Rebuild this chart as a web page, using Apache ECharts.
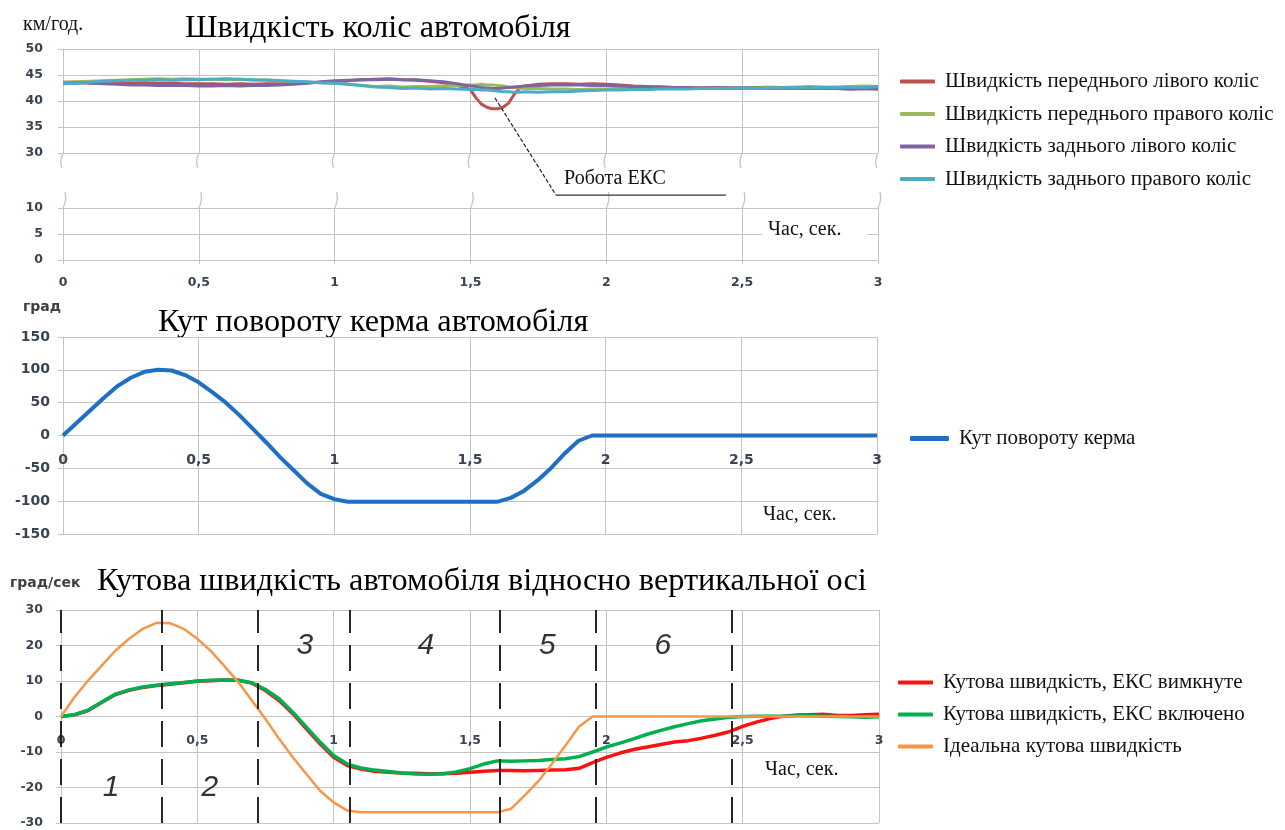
<!DOCTYPE html>
<html>
<head>
<meta charset="utf-8">
<script src="https://cdn.jsdelivr.net/npm/echarts@6/dist/echarts.min.js"></script>
<style>
  html, body { margin: 0; padding: 0; background: #fff; }
  #chart { width: 1285px; height: 830px; }
</style>
</head>
<body>
<div id="chart"></div>
<script>
// ---- Wheel speeds, km/h (denser sampling around the ESC intervention) ----
const wheelTime = [0,0.05,0.1,0.15,0.2,0.25,0.3,0.35,0.4,0.45,0.5,0.55,0.6,0.65,0.7,0.75,0.8,0.85,0.9,0.95,1,1.05,1.1,1.15,1.2,1.25,1.3,1.35,1.4,1.45,1.5,
  1.52,1.54,1.56,1.58,1.6,1.62,1.64,1.66,1.68,
  1.7,1.75,1.8,1.85,1.9,1.95,2,2.05,2.1,2.15,2.2,2.25,2.3,2.35,2.4,2.45,2.5,2.55,2.6,2.65,2.7,2.75,2.8,2.85,2.9,2.95,3];
const frontLeft = [43.6,43.6,43.5,43.6,43.5,43.4,43.5,43.4,43.4,43.3,43.3,43.3,43.2,43.3,43.2,43.3,43.3,43.4,43.5,43.6,43.7,43.9,44.1,44.2,44.3,44.1,44.0,43.8,43.5,43.0,42.2,
  40.6,39.4,38.8,38.5,38.5,38.8,39.6,41.2,42.4,
  42.9,43.2,43.3,43.3,43.2,43.3,43.2,43.1,42.9,42.8,42.7,42.6,42.6,42.5,42.6,42.5,42.5,42.6,42.5,42.4,42.5,42.4,42.5,42.4,42.3,42.4,42.3];
const frontRight = [43.6,43.7,43.8,43.9,44.0,44.1,44.2,44.3,44.2,44.3,44.2,44.2,44.1,44.2,44.0,44.1,43.9,43.7,43.6,43.5,43.4,43.2,43.0,42.8,42.9,42.7,42.8,42.8,42.9,43.0,43.1,
  43.1,43.2,43.1,43.1,43.0,42.9,42.7,42.6,42.5,
  42.4,42.4,42.3,42.3,42.2,42.3,42.3,42.4,42.4,42.5,42.5,42.4,42.6,42.5,42.6,42.6,42.5,42.6,42.7,42.6,42.7,42.8,42.7,42.7,42.8,42.9,42.8];
const rearLeft = [43.4,43.5,43.4,43.3,43.2,43.1,43.1,43.0,43.0,43.0,42.9,42.9,43.0,42.9,43.0,43.0,43.1,43.2,43.4,43.7,43.9,44.0,44.1,44.1,44.2,44.1,44.1,43.9,43.7,43.3,42.9,
  42.8,42.6,42.5,42.4,42.4,42.5,42.6,42.7,42.8,
  42.9,43.0,43.1,43.1,43.1,43.0,43.0,42.9,42.8,42.7,42.7,42.6,42.6,42.5,42.6,42.5,42.5,42.5,42.4,42.5,42.4,42.5,42.4,42.4,42.3,42.4,42.3];
const rearRight = [43.3,43.4,43.6,43.8,43.9,44.0,44.0,44.1,44.0,44.1,44.1,44.2,44.3,44.2,44.1,44.0,43.9,43.8,43.7,43.5,43.4,43.2,43.0,42.7,42.6,42.4,42.5,42.3,42.4,42.3,42.2,
  42.2,42.1,42.1,42.0,41.9,41.8,41.8,41.7,41.7,
  41.8,41.7,41.8,41.8,41.9,42.0,42.1,42.1,42.2,42.2,42.3,42.3,42.3,42.4,42.4,42.4,42.5,42.4,42.5,42.5,42.6,42.5,42.6,42.6,42.7,42.6,42.8];

// ---- Steering angle (deg) and yaw rate (deg/s), sampled every 0.05 s ----
const time = [0,0.05,0.1,0.15,0.2,0.25,0.3,0.35,0.4,0.45,0.5,0.55,0.6,0.65,0.7,0.75,0.8,0.85,0.9,0.95,
  1,1.05,1.1,1.15,1.2,1.25,1.3,1.35,1.4,1.45,1.5,1.55,1.6,1.65,1.7,1.75,1.8,1.85,1.9,1.95,
  2,2.05,2.1,2.15,2.2,2.25,2.3,2.35,2.4,2.45,2.5,2.55,2.6,2.65,2.7,2.75,2.8,2.85,2.9,2.95,3];
const steerAngle = [0,19,38,57,75,88,97,100,99,92,81,66,50,31,10,-11,-33,-53,-73,-89,
  -97,-101,-101,-101,-101,-101,-101,-101,-101,-101,-101,-101,-101,-95,-84,-68,-49,-27,-8,0,
  0,0,0,0,0,0,0,0,0,0,0,0,0,0,0,0,0,0,0,0,0];
const yawOff = [0,0.5,1.7,4.0,6.2,7.4,8.2,8.7,9.1,9.5,9.9,10.1,10.3,10.2,9.4,7.3,4.5,0.8,-3.5,-7.7,
  -11.5,-13.8,-14.8,-15.4,-15.7,-15.9,-16.0,-16.1,-16.1,-16.0,-15.7,-15.4,-15.2,-15.2,-15.3,-15.2,-15.1,-15.0,-14.6,-13.0,
  -11.5,-10.3,-9.3,-8.6,-7.9,-7.2,-6.8,-6.1,-5.3,-4.3,-2.8,-1.6,-0.6,0.1,0.4,0.5,0.6,0.3,0.3,0.5,0.6];
const yawOn = [0,0.5,1.8,4.1,6.3,7.5,8.3,8.8,9.2,9.6,10.0,10.2,10.3,10.2,9.5,7.6,5.0,1.2,-3.0,-7.2,
  -11.0,-13.4,-14.5,-15.1,-15.5,-15.9,-16.2,-16.3,-16.1,-15.6,-14.7,-13.4,-12.5,-12.6,-12.5,-12.4,-12.1,-11.9,-11.3,-10.0,
  -8.6,-7.5,-6.3,-5.0,-3.9,-2.9,-2.0,-1.2,-0.7,-0.2,0,0.1,0.1,0.1,0.2,0.2,0.1,0,-0.1,-0.2,-0.1];
const yawIdeal = [0,5.5,10.2,14.4,18.6,21.9,24.7,26.4,26.3,24.7,21.9,18.4,14.1,9.7,4.5,-0.7,-6.3,-11.5,-16.2,-20.9,
  -24.2,-26.5,-27,-27,-27,-27,-27,-27,-27,-27,-27,-27,-27,-26,-22.3,-18.3,-13.4,-8.2,-2.8,0,
  0,0,0,0,0,0,0,0,0,0,0,0,0,0,0,0,0,0,0,0,0];

// Manoeuvre phase boundaries (s) and their numbers
const phaseBounds = [0, 0.367, 0.724, 1.064, 1.613, 1.955, 2.46];
const phaseNames = ['1', '2', '3', '4', '5', '6'];

// Series names
const wheelNames = ['Швидкість переднього лівого коліс', 'Швидкість переднього правого коліс',
  'Швидкість заднього лівого коліс', 'Швидкість заднього правого коліс'];
const steerName = 'Кут повороту керма';
const yawNames = ['Кутова швидкість, ЕКС вимкнуте', 'Кутова швидкість, ЕКС включено', 'Ідеальна кутова швидкість'];

const zip = (xs, ys) => xs.map((x, i) => [x, ys[i]]);

const SERIF = 'Liberation Serif';
const SANS = 'DejaVu Sans';
const GRID_COLOR = '#c4c4c4';
const LABEL_COLOR = '#3a4352';
const commaFmt = v => String(v).replace('.', ',');

function xAxisFor(gridIndex, extra) {
  return Object.assign({
    type: 'value', gridIndex: gridIndex, min: 0, max: 3, interval: 0.5,
    axisLine: { show: false, onZero: false }, axisTick: { show: false },
    splitLine: { show: true, lineStyle: { color: GRID_COLOR, width: 1 } },
    axisLabel: { show: false }
  }, extra);
}
function yAxisFor(gridIndex, min, max, interval, fontSize, margin, extra) {
  return Object.assign({
    type: 'value', gridIndex: gridIndex, min: min, max: max, interval: interval,
    axisLine: { show: true, onZero: false, lineStyle: { color: GRID_COLOR } },
    axisTick: { show: true, length: 5, lineStyle: { color: GRID_COLOR } },
    splitLine: { show: true, lineStyle: { color: GRID_COLOR, width: 1 } },
    axisLabel: { color: LABEL_COLOR, fontFamily: SANS, fontWeight: 'bold', fontSize: fontSize, margin: margin }
  }, extra);
}
const xLabel = (fontSize, margin) => ({
  show: true, color: LABEL_COLOR, fontFamily: SANS, fontWeight: 'bold', fontSize: fontSize, margin: margin,
  formatter: commaFmt, showMinLabel: true, showMaxLabel: true
});

const lineSeries = (name, xi, data, color, width, z) => ({
  name: name, type: 'line', xAxisIndex: xi, yAxisIndex: xi, data: data,
  showSymbol: false, symbol: 'none', color: color, z: z || 2,
  lineStyle: { color: color, width: width }, emphasis: { disabled: true }
});

const legendText = { fontFamily: SERIF, fontSize: 21, color: '#111', padding: [0, 0, 0, 5] };
const titleStyle = { fontFamily: SERIF, fontSize: 32.3, fontWeight: 'normal', color: '#000' };

const option = {
  animation: false,
  backgroundColor: '#fff',
  title: [
    { text: 'Швидкість коліс автомобіля', left: 185, top: 13, padding: 0, textStyle: titleStyle },
    { text: 'Кут повороту керма автомобіля', left: 158, top: 307, padding: 0, z: 0, textStyle: titleStyle },
    { text: 'Кутова швидкість автомобіля відносно вертикальної осі', left: 97, top: 566, padding: 0, textStyle: titleStyle }
  ],
  legend: [
    { data: wheelNames, orient: 'vertical', left: 900, top: 71, padding: 0, itemWidth: 35, itemHeight: 4,
      itemGap: 11.5, icon: 'roundRect', textStyle: legendText, selectedMode: false },
    { data: [steerName], orient: 'vertical', left: 910, top: 428, padding: 0, itemWidth: 39, itemHeight: 5,
      icon: 'roundRect', textStyle: legendText, selectedMode: false },
    { data: yawNames, orient: 'vertical', left: 898, top: 672, padding: 0, itemWidth: 35, itemHeight: 4,
      itemGap: 11, icon: 'roundRect', textStyle: legendText, selectedMode: false }
  ],
  grid: [
    { left: 63, top: 49, width: 815, height: 104, outerBoundsMode: 'none' },
    { left: 63, top: 208, width: 815, height: 52, outerBoundsMode: 'none' },
    { left: 63, top: 337, width: 814, height: 197, outerBoundsMode: 'none',
      show: true, backgroundColor: '#fff', borderWidth: 0, z: 1 },
    { left: 61, top: 610, width: 818, height: 213, outerBoundsMode: 'none' }
  ],
  xAxis: [
    xAxisFor(0),
    xAxisFor(1, {
      axisLine: { show: true, onZero: false, lineStyle: { color: GRID_COLOR } },
      axisTick: { show: true, length: 4, lineStyle: { color: GRID_COLOR } },
      axisLabel: xLabel(12.5, 16)
    }),
    xAxisFor(2, {
      z: 2,
      axisLine: { show: true, onZero: false, lineStyle: { color: GRID_COLOR } },
      axisLabel: xLabel(14, 18)
    }),
    xAxisFor(3, {
      axisLine: { show: true, onZero: false, lineStyle: { color: GRID_COLOR } },
      axisLabel: xLabel(12.5, 18)
    })
  ],
  yAxis: [
    yAxisFor(0, 30, 50, 5, 12.5, 20),
    yAxisFor(1, 0, 10, 5, 12.5, 20),
    yAxisFor(2, -150, 150, 50, 14, 13, { z: 2 }),
    yAxisFor(3, -30, 30, 10, 12.5, 18)
  ],
  series: [
    lineSeries(wheelNames[0], 0, zip(wheelTime, frontLeft), '#c0504d', 3),
    lineSeries(wheelNames[1], 0, zip(wheelTime, frontRight), '#9bbb59', 3),
    lineSeries(wheelNames[2], 0, zip(wheelTime, rearLeft), '#8064a2', 3),
    lineSeries(wheelNames[3], 0, zip(wheelTime, rearRight), '#4bacc6', 3),

    lineSeries(steerName, 2, zip(time, steerAngle), '#1f6fc5', 4, 3),

    Object.assign(lineSeries(yawNames[0], 3, zip(time, yawOff), '#ff1010', 3.5), {
      markLine: {
        silent: true, symbol: 'none', animation: false,
        label: { show: false },
        lineStyle: { color: '#111', width: 1.8, type: [26, 12] },
        data: phaseBounds.map(t => ({ xAxis: t }))
      }
    }),
    lineSeries(yawNames[1], 3, zip(time, yawOn), '#00b050', 3.5),
    lineSeries(yawNames[2], 3, zip(time, yawIdeal), '#f79646', 2.5),

    {
      name: 'phases', type: 'scatter', xAxisIndex: 3, yAxisIndex: 3, silent: true,
      symbolSize: 1, itemStyle: { color: 'rgba(0,0,0,0)' },
      data: phaseNames.map((n, i) => [(phaseBounds[i] + (phaseBounds[i + 1] !== undefined ? phaseBounds[i + 1] : 2.53)) / 2, i < 2 ? -20 : 20]),
      label: {
        show: true, position: 'inside', formatter: p => phaseNames[p.dataIndex],
        fontFamily: 'Liberation Sans', fontStyle: 'italic', fontSize: 30, color: '#000'
      },
      z: 5
    }
  ]
};

const chart = echarts.init(document.getElementById('chart'));
chart.setOption(option);

// Move the time axes of the steering and yaw-rate charts onto their zero lines
const zeroShift = (gi, yMin) => {
  const zero = chart.convertToPixel({ gridIndex: gi }, [0, 0])[1];
  const bottom = chart.convertToPixel({ gridIndex: gi }, [0, yMin])[1];
  return zero - bottom;
};
for (let pass = 0; pass < 2; pass++) {
  chart.setOption({ xAxis: [{}, {}, { offset: zeroShift(2, -150) }, { offset: zeroShift(3, -30) }] });
}

// ---- Decorations that depend on the rendered axes ----
const graphics = [];
const serifText = (text, x, y, extra) => Object.assign({
  type: 'text', x: x, y: y, z: 10,
  style: Object.assign({ text: text, fill: '#111', font: '20px "Liberation Serif"', textVerticalAlign: 'middle' }, extra || {})
});

// axis-break squiggles between the upper and lower part of the wheel-speed chart
for (let t = 0; t <= 3; t += 0.5) {
  const up = chart.convertToPixel({ gridIndex: 0 }, [t, 30]);
  const lo = chart.convertToPixel({ gridIndex: 1 }, [t, 10]);
  graphics.push({ type: 'bezierCurve', z: 3, silent: true,
    shape: { x1: up[0], y1: up[1], cpx1: up[0] - 4, cpy1: up[1] + 9, x2: up[0] - 1, y2: up[1] + 15 },
    style: { stroke: GRID_COLOR, lineWidth: 1.3, fill: null } });
  graphics.push({ type: 'bezierCurve', z: 3, silent: true,
    shape: { x1: lo[0] + 2, y1: lo[1] - 16, cpx1: lo[0] + 4, cpy1: lo[1] - 8, x2: lo[0], y2: lo[1] },
    style: { stroke: GRID_COLOR, lineWidth: 1.3, fill: null } });
}

// leader line pointing at the ESC intervention dip
const a0 = chart.convertToPixel({ gridIndex: 0 }, [1.59, 40.6]);
const a1 = chart.convertToPixel({ gridIndex: 0 }, [1.815, 21.9]);
const a2 = chart.convertToPixel({ gridIndex: 0 }, [2.44, 21.9]);
graphics.push({ type: 'line', z: 10, silent: true,
  shape: { x1: a0[0], y1: a0[1], x2: a1[0], y2: a1[1] },
  style: { stroke: '#222', lineWidth: 1.2, lineDash: [4, 2] } });
graphics.push({ type: 'line', z: 10, silent: true,
  shape: { x1: a1[0], y1: a1[1], x2: a2[0], y2: a2[1] },
  style: { stroke: '#333', lineWidth: 1.4 } });
graphics.push(serifText('Робота ЕКС', 564, 179));

// unit captions
graphics.push(serifText('км/год.', 23, 25));
graphics.push({ type: 'text', x: 23, y: 307, z: 10,
  style: { text: 'град', fill: '#404040', font: 'bold 14px "DejaVu Sans"', textVerticalAlign: 'middle' } });
graphics.push({ type: 'text', x: 10, y: 583, z: 10,
  style: { text: 'град/сек', fill: '#404040', font: 'bold 14px "DejaVu Sans"', textVerticalAlign: 'middle' } });

// time-axis captions
graphics.push(serifText('Час, сек.', 762, 230, { backgroundColor: '#fff', padding: [2, 26, 2, 6] }));
graphics.push(serifText('Час, сек.', 763, 515));
graphics.push(serifText('Час, сек.', 765, 770));

chart.setOption({ graphic: graphics });
</script>
</body>
</html>
